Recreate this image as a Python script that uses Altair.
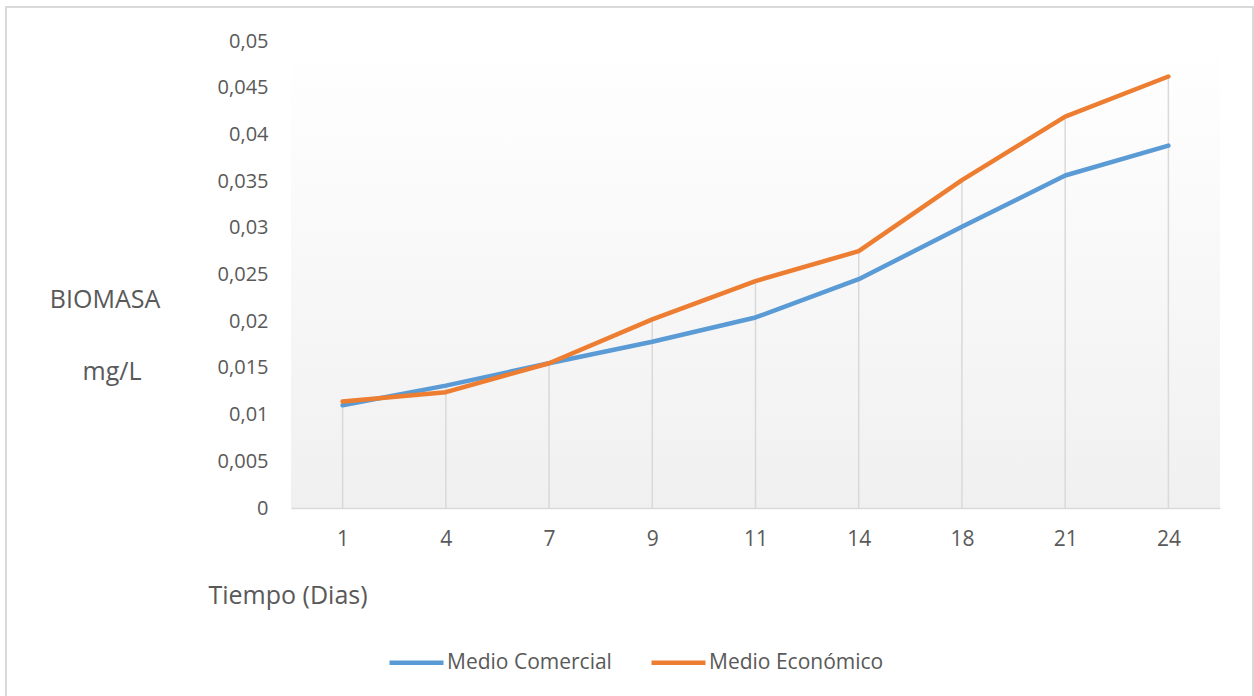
import altair as alt
import pandas as pd

dias = ["1", "4", "7", "9", "11", "14", "18", "21", "24"]
comercial = [0.0110, 0.0131, 0.0155, 0.0178, 0.0204, 0.0245, 0.0301, 0.0356, 0.0388]
economico = [0.0114, 0.0124, 0.0155, 0.0202, 0.0243, 0.0275, 0.0351, 0.0419, 0.0462]
series = ["Medio Comercial", "Medio Económico"]
colors = ["#5b9bd5", "#ed7d31"]
y_ticks = [0, 0.005, 0.01, 0.015, 0.02, 0.025, 0.03, 0.035, 0.04, 0.045, 0.05]
y_title_lines = ["BIOMASA", "mg/L"]
x_title = "Tiempo (Dias)"

FONT = "Open Sans"
GREY = "#595959"
W, H = 929, 467

rows = []
for d, c, e in zip(dias, comercial, economico):
    rows.append({"dia": d, "serie": series[0], "valor": c})
    rows.append({"dia": d, "serie": series[1], "valor": e})
df = pd.DataFrame(rows)
drop = pd.DataFrame({"dia": dias, "top": [max(c, e) for c, e in zip(comercial, economico)]})
one = pd.DataFrame({"k": [0]})

xscale = alt.Scale(type="point", padding=0.5, domain=dias)
yscale = alt.Scale(domain=[0, 0.05], nice=False)

border = alt.Chart(one).mark_rect(fill="transparent", stroke="#d9d9d9", strokeWidth=2, clip=False).encode(
    x=alt.value(-285), x2=alt.value(962), y=alt.value(-34), y2=alt.value(670)
)

bg = alt.Chart(one).mark_rect(
    fill=alt.Gradient(
        gradient="linear",
        stops=[
            alt.GradientStop(color="#ffffff", offset=0),
            alt.GradientStop(color="#fdfdfd", offset=0.15),
            alt.GradientStop(color="#f0f0f0", offset=1),
        ],
        x1=0, x2=0, y1=0, y2=1,
    )
).encode(x=alt.value(0), x2=alt.value(W), y=alt.value(0), y2=alt.value(H))

rules = alt.Chart(drop).mark_rule(color="#d9d9d9", strokeWidth=1.5).encode(
    x=alt.X("dia:N", scale=xscale, sort=dias),
    y=alt.Y("top:Q", scale=yscale),
    y2=alt.datum(0),
)

lines = alt.Chart(df).mark_line(strokeWidth=4.5, strokeCap="round", strokeJoin="round").encode(
    x=alt.X(
        "dia:N", scale=xscale, sort=dias,
        axis=alt.Axis(
            title=x_title, labelAngle=0, labelAlign="center", labelFontSize=21, labelColor=GREY,
            labelFont=FONT, labelPadding=31, ticks=False, domainColor="#d9d9d9", domainWidth=1.5,
            grid=False,
            titleFont=FONT, titleFontSize=25, titleFontWeight="normal", titleColor=GREY,
            titleX=-83, titleY=87, titleAlign="left", titleBaseline="middle", titleAnchor="start",
            zindex=1,
        ),
    ),
    y=alt.Y(
        "valor:Q", scale=yscale,
        axis=alt.Axis(
            title=None, values=y_ticks, labelExpr="replace(format(datum.value, '.3~f'), '.', ',')",
            labelFontSize=20, labelColor=GREY, labelFont=FONT, labelPadding=23,
            ticks=False, domain=False, grid=False, zindex=1,
        ),
    ),
    color=alt.Color(
        "serie:N", scale=alt.Scale(domain=series, range=colors),
        legend=alt.Legend(
            title=None, orient="none", legendX=96, legendY=592, direction="horizontal",
            symbolType="stroke", symbolSize=2916, symbolStrokeWidth=4.5,
            labelFontSize=21, labelFont=FONT, labelColor=GREY, labelOffset=1, columnPadding=30,
            labelLimit=400,
        ),
    ),
    order=alt.Order("serie:N"),
)

ytitle = alt.Chart(pd.DataFrame({"t": y_title_lines, "px": [105 - 291, 112 - 291], "py": [300 - 41, 372 - 41]})).mark_text(
    font=FONT, fontSize=25, color=GREY, align="center", baseline="middle", clip=False
).encode(text="t:N", x=alt.X("px:Q", scale=None), y=alt.Y("py:Q", scale=None))

chart = alt.layer(border, bg, rules, lines, ytitle).resolve_scale(
    x="shared", y="shared"
).properties(
    width=W, height=H, autosize="none",
    padding={"left": 291, "top": 41, "right": 34, "bottom": 188},
    background="white",
).configure_view(stroke=None)

chart.save("out.html", embed_options={"renderer": "svg", "actions": False})
